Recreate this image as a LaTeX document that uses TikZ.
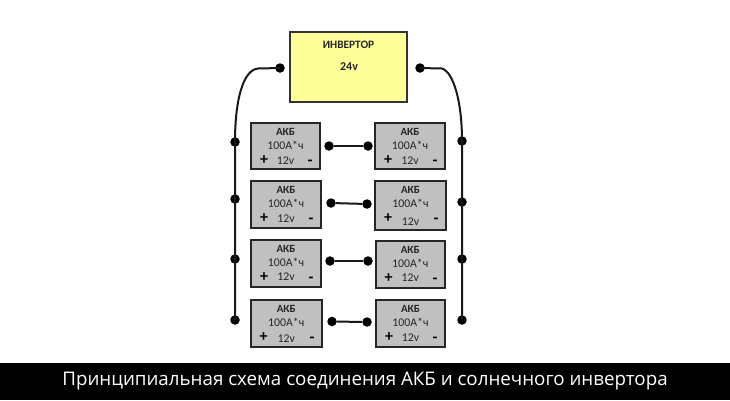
\documentclass[tikz,border=0pt]{standalone}
\usepackage{fontspec}
\setmainfont{Carlito}
\newfontfamily\capfont{Open Sans}
\definecolor{invyellow}{HTML}{FFFF99}
\definecolor{akbgrey}{HTML}{C0C0C0}
\tikzset{
  akb/.style={draw=black!85,line width=2pt,fill=akbgrey,inner sep=0pt,outer sep=0pt},
  inv/.style={draw=black!80,line width=1.6pt,fill=invyellow,inner sep=0pt,outer sep=0pt},
  dot/.style={circle,fill=black,inner sep=0pt,minimum size=9.5pt},
  wire/.style={draw=black!90,line width=2pt},
  lbl/.style={font=\fontsize{11.8}{13}\selectfont,text=black!85,inner sep=0pt},
  lblb/.style={font=\fontsize{11}{13}\selectfont\bfseries,text=black!85,inner sep=0pt},
  sign/.style={font=\fontsize{16}{16}\selectfont\bfseries,text=black,inner sep=0pt}
}
\usetikzlibrary{calc}
\newcommand{\akbbox}[6]{% name, x1, y1, x2, y2, y offset of the lowest row
  \node[akb,minimum width=#4pt-#2pt,minimum height=#5pt-#3pt,anchor=north west] (#1) at (#2,#3) {};
  \node[lblb] (#1t) at ($(#2,#3)!0.5!(#4,#3)+(0,9)$) {АКБ};
  \node[lbl] (#1c) at ($(#2,#3)!0.5!(#4,#3)+(0,22.5)$) {100А*ч};
  \node[sign] (#1p) at ($(#2,#3)+(13,37)$) {+};
  \node[lbl] (#1v) at ($(#2,#3)!0.5!(#4,#3)+(0,#6)$) {12v};
  \node[sign] (#1m) at ($(#4,#3)+(-10,40)$) {-};
}
\begin{document}
\begin{tikzpicture}[x=1pt,y=-1pt]
\useasboundingbox (0,0) rectangle (730,400);
\fill[white] (0,0) rectangle (730,400);
\node[inv,minimum width=117pt,minimum height=70pt,anchor=north west] (inverter) at (290,32) {};
\node[lblb,font=\fontsize{11.3}{13}\selectfont\bfseries] (invt) at (348.5,44.5) {ИНВЕРТОР};
\node[lblb,font=\fontsize{12}{14}\selectfont\bfseries] (invv) at (349,66.5) {24v};

\akbbox{a1}{251}{123}{320}{169}{37.5}
\akbbox{b1}{375}{123}{445}{169}{37.5}
\akbbox{a2}{251}{181}{321}{228}{38}
\akbbox{b2}{375}{181}{446}{230}{41}
\akbbox{a3}{251}{240}{321}{287}{37}
\akbbox{b3}{375.5}{241}{445}{288}{37}
\akbbox{a4}{250.5}{300}{322}{347}{39}
\akbbox{b4}{376}{300}{445}{347}{38}

\node[dot] (il) at (280,68) {};
\node[dot] (ir) at (420,68) {};
\node[dot] (l1) at (235,142) {};
\node[dot] (l2) at (235,199) {};
\node[dot] (l3) at (235,259) {};
\node[dot] (l4) at (235,320) {};
\node[dot] (r1) at (462,141) {};
\node[dot] (r2) at (462,202) {};
\node[dot] (r3) at (462,259) {};
\node[dot] (r4) at (462,320) {};
\node[dot] (c1a) at (329,146) {};
\node[dot] (c1b) at (368,146) {};
\node[dot] (c2a) at (331,203) {};
\node[dot] (c2b) at (367,204) {};
\node[dot] (c3a) at (330,261) {};
\node[dot] (c3b) at (368,261) {};
\node[dot] (c4a) at (332,321.5) {};
\node[dot] (c4b) at (367,322) {};

\draw[wire] (il.center) -- (258,68.5) .. controls (243,70) and (235,100) .. (l1.center) -- (l2.center) -- (l3.center) -- (l4.center);
\draw[wire] (ir.center) -- (442,68.5) .. controls (453,72) and (462,100) .. (r1.center) -- (r2.center) -- (r3.center) -- (r4.center);
\draw[wire] (c1a) -- (c1b);
\draw[wire] (c2a) -- (c2b);
\draw[wire] (c3a) -- (c3b);
\draw[wire] (c4a) -- (c4b);

\fill[black] (0,363) rectangle (730,400);
\node[text=white,inner sep=0pt,font=\capfont\fontsize{18.75}{22}\selectfont] (caption) at (365,381.5) {Принципиальная схема соединения АКБ и солнечного инвертора};
\end{tikzpicture}
\end{document}
